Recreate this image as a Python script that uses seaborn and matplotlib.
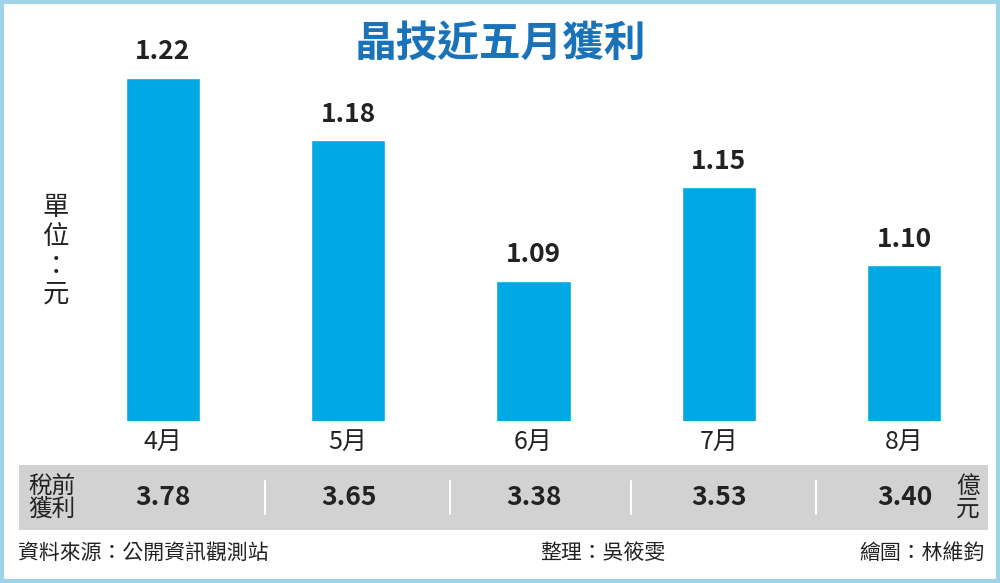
import matplotlib
matplotlib.use("Agg")
import matplotlib.pyplot as plt
import seaborn as sns
import pandas as pd
from matplotlib.patches import Rectangle

months = ["4月", "5月", "6月", "7月", "8月"]
eps = [1.22, 1.18, 1.09, 1.15, 1.10]
pretax = ["3.78", "3.65", "3.38", "3.53", "3.40"]

sns.set_style("white")
plt.rcParams['font.family'] = ['Noto Sans CJK TC', 'DejaVu Sans']

fig = plt.figure(figsize=(10, 5.83), dpi=100)
fig.patch.set_facecolor("white")
fig.patches.append(Rectangle((0.002, 0.003), 0.996, 0.994, transform=fig.transFigure,
                             fill=False, edgecolor="#9fd3ea", linewidth=3))

ax = fig.add_axes([0.07, 1 - 421 / 583, 0.927, 421 / 583])
df = pd.DataFrame({"month": months, "eps": eps})
sns.barplot(data=df, x="month", y="eps", color="#00a9e4", width=0.4, saturation=1, ax=ax)
ax.set_xlim(-0.5, 4.5)
ax.set_ylim(1.0, 1.27)
for i, v in enumerate(eps):
    ax.text(i, v + 0.008, f"{v:.2f}", ha="center", va="bottom", fontsize=19,
            fontweight="bold", color="#222222")
ax.set_yticks([])
ax.set_xlabel("")
ax.set_ylabel("")
ax.tick_params(axis="x", length=0, pad=6, labelsize=18, labelcolor="#222222")
for s in ax.spines.values():
    s.set_visible(False)
ax.patch.set_alpha(0)

fig.text(0.5, 0.925, "晶技近五月獲利", ha="center", va="center", fontsize=30,
         fontweight="bold", color="#1a73b8")
fig.text(0.056, 0.57, "單\n位\n：\n元", ha="center", va="center", fontsize=19,
         color="#222222", linespacing=1.1)

# gray band
band = fig.add_axes([0.019, 1 - 530 / 583, 0.969, 65 / 583])
band.set_facecolor("#d2d2d2")
band.set_xlim(19, 988)
band.set_ylim(0, 1)
band.set_xticks([])
band.set_yticks([])
for s in band.spines.values():
    s.set_visible(False)
band.text(52, 0.5, "稅前\n獲利", ha="center", va="center", fontsize=17,
          color="#222222", linespacing=1.0)
xs = [163, 349, 534, 719, 905]
for x, t in zip(xs, pretax):
    band.text(x, 0.5, t, ha="center", va="center", fontsize=19, fontweight="bold",
              color="#222222")
for x in [265, 450, 631, 816]:
    band.plot([x, x], [0.25, 0.75], color="white", lw=1.5)
band.text(968, 0.5, "億\n元", ha="center", va="center", fontsize=17,
          color="#222222", linespacing=1.0)

fy = 1 - 553 / 583
fig.text(0.018, fy, "資料來源：公開資訊觀測站", ha="left", va="center", fontsize=15, color="#222222")
fig.text(0.54, fy, "整理：吳筱雯", ha="left", va="center", fontsize=15, color="#222222")
fig.text(0.985, fy, "繪圖：林維鈞", ha="right", va="center", fontsize=15, color="#222222")

fig.savefig("out.png", dpi=100)
